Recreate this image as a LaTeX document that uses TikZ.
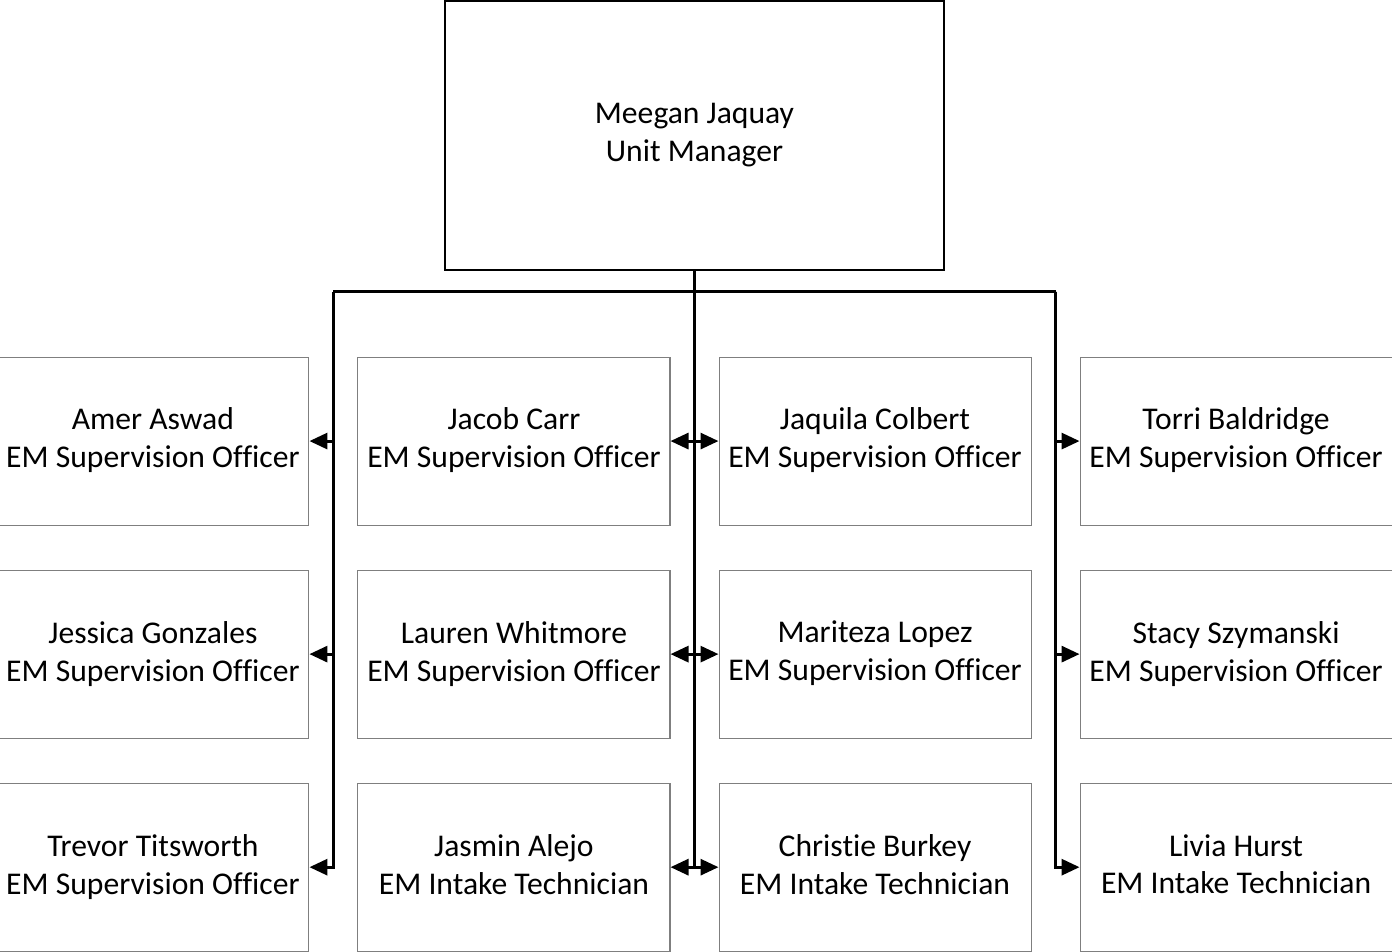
\documentclass[tikz,border=0pt]{standalone}
\usepackage{fontspec}
\setmainfont{Carlito}[Ligatures=NoCommon]
\usetikzlibrary{arrows.meta, positioning, calc}
\definecolor{orggrey}{HTML}{7F7F7F}
\newcommand{\orgstrut}{\rule[-3.5pt]{0pt}{20.7pt}}
\tikzset{
  node distance=8.8mm and 9.6mm,
  >={Triangle[length=3.6mm, width=3.2mm]},
  box/.style={rectangle, draw=orggrey, line width=0.6pt, align=center,
              minimum width=6.24cm, minimum height=3.36cm, inner sep=0pt,
              font=\fontsize{18}{21.6}\selectfont,
              execute at begin node=\orgstrut, execute at end node=\orgstrut},
  boxm/.style={box, draw=black, minimum width=9.98cm, minimum height=5.38cm},
  link/.style={line width=1.7pt, draw=black},
  flow/.style={->, link},
}
\begin{document}
\begin{tikzpicture}
    \useasboundingbox (-13.89,2.71) rectangle (13.95,-16.31);
    \node[boxm] (mgr) at (0,0) {Meegan Jaquay\\ Unit Manager};
    % first row
    \node[box, below left=17.2mm and 4.8mm of mgr.south] (carr) {Jacob Carr\\ EM Supervision Officer};
    \node[box, below right=17.2mm and 4.8mm of mgr.south] (colbert) {Jaquila Colbert\\ EM Supervision Officer};
    \node[box, left=of carr] (aswad) {Amer Aswad\\ EM Supervision Officer};
    \node[box, right=of colbert] (baldridge) {Torri Baldridge\\ EM Supervision Officer};
    % second row
    \node[box, below=of aswad] (gonzales) {Jessica Gonzales\\ EM Supervision Officer};
    \node[box, below=of carr] (whitmore) {Lauren Whitmore\\ EM Supervision Officer};
    \node[box, below=of colbert] (lopez) {Mariteza Lopez\\ EM Supervision Officer};
    \node[box, below=of baldridge] (szymanski) {Stacy Szymanski\\ EM Supervision Officer};
    % third row
    \node[box, below=of gonzales] (titsworth) {Trevor Titsworth\\ EM Supervision Officer};
    \node[box, below=of whitmore] (alejo) {Jasmin Alejo\\ EM Intake Technician};
    \node[box, below=of lopez] (burkey) {Christie Burkey\\ EM Intake Technician};
    \node[box, below=of szymanski] (hurst) {Livia Hurst\\ EM Intake Technician};
    % bus
    \coordinate (hub) at ([yshift=-4.2mm]mgr.south);
    \coordinate (gapl) at ($(aswad.east)!0.5!(carr.west)$);
    \coordinate (gapr) at ($(colbert.east)!0.5!(baldridge.west)$);
    \coordinate (busl) at (gapl |- hub);
    \coordinate (busr) at (gapr |- hub);
    \draw[link] (mgr.south) -- (hub);
    \draw[link] (busl) -- (busr);
    \draw[flow] (busl) |- (aswad);
    \draw[flow] (busl) |- (gonzales);
    \draw[flow] (busl) |- (titsworth);
    \draw[flow] (hub) |- (carr);
    \draw[flow] (hub) |- (whitmore);
    \draw[flow] (hub) |- (alejo);
    \draw[flow] (hub) |- (colbert);
    \draw[flow] (hub) |- (lopez);
    \draw[flow] (hub) |- (burkey);
    \draw[flow] (busr) |- (baldridge);
    \draw[flow] (busr) |- (szymanski);
    \draw[flow] (busr) |- (hurst);
\end{tikzpicture}
\end{document}
